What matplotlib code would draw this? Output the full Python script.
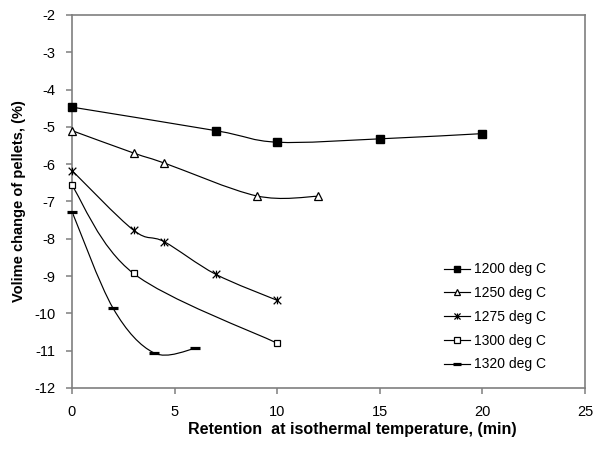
#!/usr/bin/env python3
"""
Volume change of pellets vs. retention time at isothermal temperature.

Smoothed line chart (Excel-style Catmull-Rom curves) for five firing temperatures.
"""

import matplotlib

matplotlib.use("Agg")

import matplotlib.pyplot as plt
import numpy as np
from matplotlib.patches import PathPatch
from matplotlib.path import Path

# --- Data ------------------------------------------------------------------- #
SERIES_LABELS = ["1200 deg C", "1250 deg C", "1275 deg C", "1300 deg C", "1320 deg C"]

T1200_X = [0, 7, 10, 15, 20]
T1200_Y = [-4.47, -5.10, -5.41, -5.32, -5.18]

T1250_X = [0, 3, 4.5, 9, 12]
T1250_Y = [-5.10, -5.70, -5.97, -6.85, -6.86]

T1275_X = [0, 3, 4.5, 7, 10]
T1275_Y = [-6.17, -7.77, -8.08, -8.95, -9.65]

T1300_X = [0, 3, 10]
T1300_Y = [-6.57, -8.93, -10.80]

T1320_X = [0, 2, 4, 6]
T1320_Y = [-7.27, -9.86, -11.06, -10.94]

X_TICKS = [0, 5, 10, 15, 20, 25]
Y_TICKS = [-12, -11, -10, -9, -8, -7, -6, -5, -4, -3, -2]

AXIS_GRAY = "#7f7f7f"

# Excel "star" marker: an x with a vertical bar through it
STAR = Path([(-1, -1), (1, 1), (-1, 1), (1, -1), (0, -1), (0, 1)],
            [Path.MOVETO, Path.LINETO, Path.MOVETO, Path.LINETO, Path.MOVETO, Path.LINETO])

MARKERS = [
    dict(marker="s", markersize=5.5, markerfacecolor="black", markeredgecolor="black"),
    dict(marker="^", markersize=6, markerfacecolor="white", markeredgecolor="black",
         markeredgewidth=0.9),
    dict(marker=STAR, markersize=5.5, markerfacecolor="none", markeredgecolor="black",
         markeredgewidth=0.9),
    dict(marker="s", markersize=5, markerfacecolor="white", markeredgecolor="black",
         markeredgewidth=0.9),
    dict(marker="_", markersize=7.5, markeredgecolor="black", markeredgewidth=2.3),
]


def smooth_path(xs, ys):
    """Cubic Bezier path through the points (Catmull-Rom tangents, like Excel)."""
    pts = np.column_stack([xs, ys]).astype(float)
    n = len(pts)
    verts = [pts[0]]
    codes = [Path.MOVETO]
    for i in range(n - 1):
        p0 = pts[i - 1] if i > 0 else pts[i]
        p1, p2 = pts[i], pts[i + 1]
        p3 = pts[i + 2] if i + 2 < n else pts[i + 1]
        verts += [p1 + (p2 - p0) / 6.0, p2 - (p3 - p1) / 6.0, p2]
        codes += [Path.CURVE4] * 3
    return Path(verts, codes)


def main():
    plt.rcParams.update({"font.family": ["Liberation Sans", "DejaVu Sans"]})
    fig = plt.figure(figsize=(5.96, 4.5), dpi=100)
    ax = fig.add_axes([72 / 596, 62 / 450, 513 / 596, 373 / 450])

    data = [(T1200_X, T1200_Y), (T1250_X, T1250_Y), (T1275_X, T1275_Y),
            (T1300_X, T1300_Y), (T1320_X, T1320_Y)]

    handles = []
    for (xs, ys), label, mk in zip(data, SERIES_LABELS, MARKERS):
        ax.add_patch(PathPatch(smooth_path(xs, ys), facecolor="none", edgecolor="black",
                               linewidth=0.85, zorder=2))
        ax.plot(xs, ys, linestyle="none", zorder=3, clip_on=False, **mk)
        # legend handle: line + marker
        h, = ax.plot([], [], color="black", linewidth=0.85, label=label, **mk)
        handles.append(h)

    ax.set_xlim(0, 25)
    ax.set_ylim(-12, -2)
    ax.set_xticks(X_TICKS)
    ax.set_yticks(Y_TICKS)
    ax.set_xticklabels([str(t) for t in X_TICKS], fontsize=10.5)
    ax.set_yticklabels([str(t) for t in Y_TICKS], fontsize=10.5)
    ax.tick_params(direction="out", length=4, width=1.1, color=AXIS_GRAY)
    ax.tick_params(axis="x", pad=8)
    ax.tick_params(axis="y", pad=8)

    for sp in ax.spines.values():
        sp.set_color(AXIS_GRAY)
        sp.set_linewidth(1.2)

    ax.set_xlabel("Retention  at isothermal temperature, (min)", fontsize=11.5,
                  fontweight="bold")
    # Excel places the axis title a little right of the plot-area centre
    ax.xaxis.set_label_coords((352 - 72) / 513, -0.09)
    ax.set_ylabel("Volime change of pellets, (%)", fontsize=10.5, fontweight="bold",
                  labelpad=6)

    ax.legend(handles=handles, frameon=False, fontsize=10, loc="upper left",
              bbox_to_anchor=(0.70, 0.37), handlelength=1.9, handletextpad=0.3,
              labelspacing=0.7, markerscale=0.8)

    fig.savefig("out.png", dpi=100)
    plt.close(fig)


if __name__ == "__main__":
    main()
